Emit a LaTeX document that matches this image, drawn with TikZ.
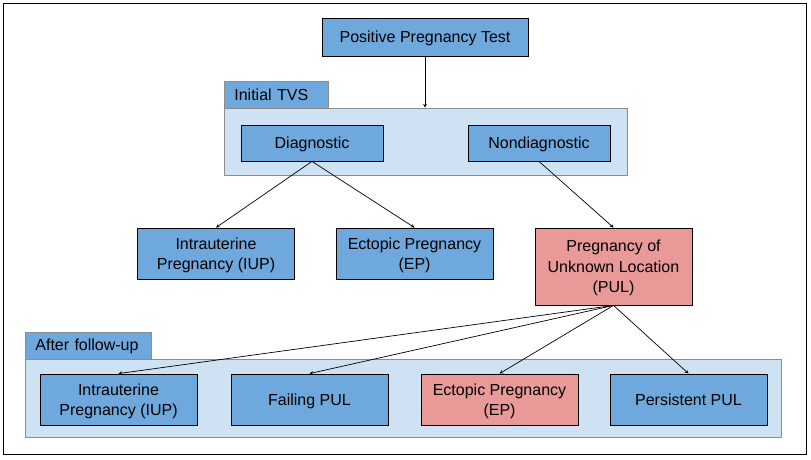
\documentclass[tikz,border=0pt]{standalone}
\usepackage{fontspec}
\setmainfont{Liberation Sans}
\usetikzlibrary{arrows,positioning,calc,shapes}
\definecolor{boxblue}{HTML}{6FA8DC}
\definecolor{boxred}{HTML}{EA9999}
\definecolor{panelblue}{HTML}{CFE2F3}
\definecolor{panelgray}{HTML}{8C8C8C}

\begin{document}
\begin{tikzpicture}[x=1pt, y=-1pt,
    box/.style={rectangle, draw=black, fill=boxblue, line width=0.8pt, minimum width=157pt, minimum height=51pt, inner sep=0pt, text depth=0pt, align=center, font=\fontsize{16}{20.5}\selectfont},
    panel/.style={rectangle, draw=panelgray, fill=panelblue, line width=0.8pt, inner sep=0pt},
    tab/.style={rectangle, draw=panelgray, fill=boxblue, line width=0.8pt, inner ysep=0pt, inner xsep=10pt, minimum height=27pt, anchor=west, align=left, font=\fontsize{16}{20.5}\selectfont},
    arrow/.style={->, >=stealth, line width=0.7pt}
]
\useasboundingbox (0,0) rectangle (811,460);
\draw[line width=0.8pt] (3,3) rectangle (806,454);

% Panels
\node[panel, minimum width=403pt, minimum height=67pt] (tvs) at (425.5,141.5) {};
\node[tab, text width=84pt] (tvstab) at (224,94.5) {Initial TVS};
\node[panel, minimum width=756pt, minimum height=78pt] (fup) at (403,398) {};
\node[tab, text width=106pt] (fuptab) at (25,346) {After follow-up};

% Top
\node[box, minimum width=206pt, minimum height=38pt] (ppt) at (425,37) {Positive Pregnancy Test};
\node[box, minimum width=142pt, minimum height=36pt] (diag) at (312,143) {Diagnostic};
\node[box, minimum width=142pt, minimum height=36pt] (nondiag) at (539,143) {Nondiagnostic};

% Middle
\node[box] (iup) at (216,253.5) {Intrauterine\\Pregnancy (IUP)};
\node[box] (ep) at (414.5,253.5) {Ectopic Pregnancy\\(EP)};
\node[box, fill=boxred, minimum height=77pt] (pul) at (613.5,266.5) {Pregnancy of\\Unknown Location\\(PUL)};

% Bottom
\node[box] (iup2) at (118.5,399.5) {Intrauterine\\Pregnancy (IUP)};
\node[box] (fail) at (309.5,399.5) {Failing PUL};
\node[box, fill=boxred] (ep2) at (499.5,399.5) {Ectopic Pregnancy\\(EP)};
\node[box] (persist) at (688.5,399.5) {Persistent PUL};

% Arrows
\draw[arrow] (ppt) -- (ppt |- tvs.north);
\draw[arrow] (diag.south) -- (iup.north);
\draw[arrow] (diag.south) -- (ep.north);
\draw[arrow] (nondiag.south) -- (pul.north);
\draw[arrow] (pul.south) -- (iup2.north);
\draw[arrow] (pul.south) -- (fail.north);
\draw[arrow] (pul.south) -- (ep2.north);
\draw[arrow] (pul.south) -- (persist.north);
\end{tikzpicture}
\end{document}
